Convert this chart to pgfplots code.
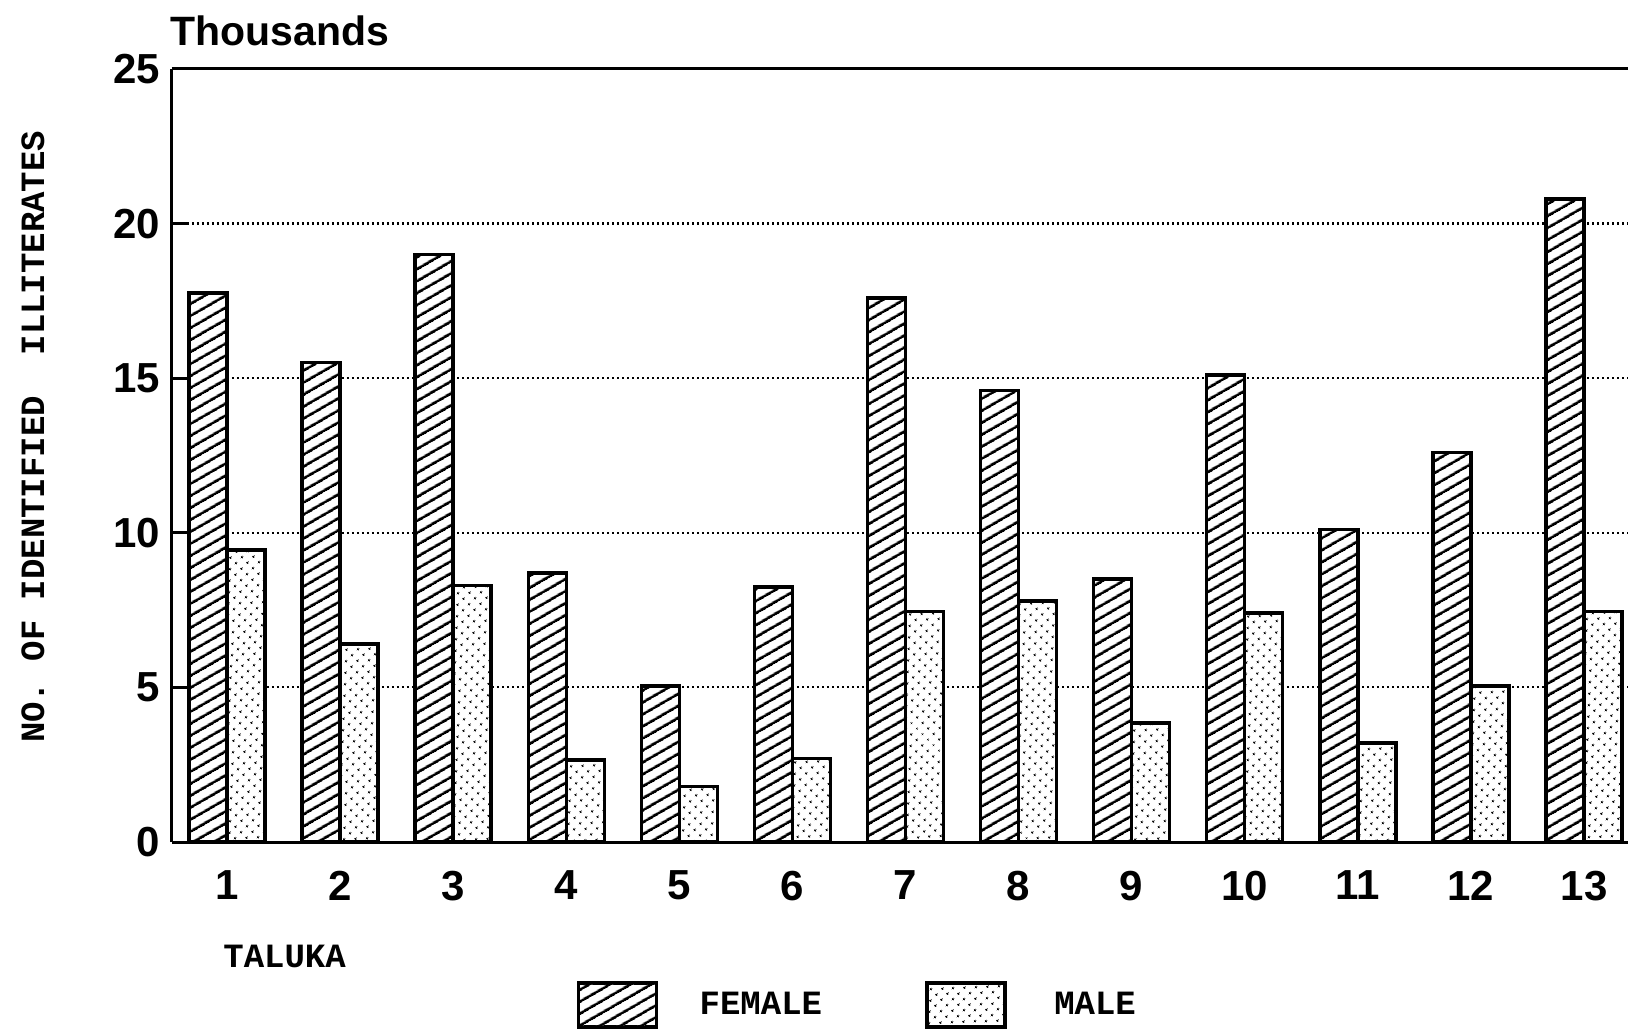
\documentclass[border=0pt]{standalone}
\usepackage{fontspec}
\setmainfont{Liberation Sans}
\newfontfamily\slab{Liberation Mono}
\usepackage{pgfplots}
\usepackage{pgfplotstable}
\pgfplotsset{compat=1.18}
\usetikzlibrary{patterns.meta}

% taluka, female, male (thousands)
\pgfplotstableread{
taluka female male
1  17.75 9.45
2  15.5  6.4
3  19.0  8.3
4  8.7   2.65
5  5.05  1.8
6  8.25  2.7
7  17.6  7.45
8  14.6  7.8
9  8.5   3.85
10 15.1  7.4
11 10.1  3.2
12 12.6  5.05
13 20.8  7.45
}\illit

\pgfplotsset{
  boxlegend/.style={legend image code/.code={%
      \draw[##1, line width=1.3pt] (0pt,-11pt) rectangle (39pt,11pt);}},
}

\begin{document}
\begin{tikzpicture}
\begin{axis}[
    at={(0,0)}, anchor=south west,
    scale only axis, width=728pt, height=386.5pt,
    xmin=0.514, xmax=13.389, ymin=0, ymax=25,
    axis x line*=box, axis y line*=left,
    axis line style={black, line width=1.5pt},
    ybar=0pt, bar width=19pt,
    xtick={1,...,13}, xtick style={draw=none},
    ytick={0,5,...,25}, ytick align=inside, major tick length=8.5pt,
    ytick style={black, line width=1.5pt},
    ymajorgrids, grid style={black, line width=1.1pt, dash pattern=on 1pt off 1.5pt},
    /pgf/number format/assume math mode=true,
    tick label style={font=\fontsize{21}{21}\selectfont\bfseries},
    xticklabel style={yshift=-2.5pt},
    yticklabel style={xshift=-2.5pt},
    title={Thousands},
    every axis title shift=0pt,
    title style={at={(axis description cs:-0.0014,1.031)}, anchor=base west,
                 font=\fontsize{20.5}{20.5}\selectfont\bfseries, inner sep=0pt},
    xlabel={TALUKA},
    xlabel style={at={(axis description cs:0.035,-0.163)}, anchor=base west,
                  font=\slab\bfseries\fontsize{17}{17}\selectfont, inner sep=0pt},
    ylabel={NO. OF IDENTIFIED~~ILLITERATES},
    every axis y label/.style={at={(axis description cs:-0.0955,0.524)}, rotate=90, anchor=center,
                  font=\slab\bfseries\fontsize{17}{17}\selectfont},
    legend columns=2,
    legend style={draw=none, fill=none, inner sep=0pt, outer sep=0pt,
                  at={(0.2782,-0.2109)}, anchor=west,
                  font=\slab\bfseries\fontsize{17}{17}\selectfont,
                  nodes={inner sep=0pt},
                  /tikz/column 1/.style={column sep=21pt},
                  /tikz/column 2/.style={column sep=51.8pt},
                  /tikz/column 3/.style={column sep=24pt}},
]
\addplot[boxlegend, draw=black, line width=1.7pt, preaction={fill=white},
         pattern={Lines[angle=30, distance=5.4pt, line width=1.5pt]}]
    table[x=taluka, y=female] {\illit};
\addplot[boxlegend, draw=black, line width=1.7pt, preaction={fill=white},
         pattern={Dots[angle=45, distance=4pt, radius=0.7pt]}]
    table[x=taluka, y=male] {\illit};
\legend{FEMALE, MALE}
\end{axis}
\pgfresetboundingbox
\path (-86pt,-95.5pt) rectangle (728pt,421pt);
\end{tikzpicture}
\end{document}
